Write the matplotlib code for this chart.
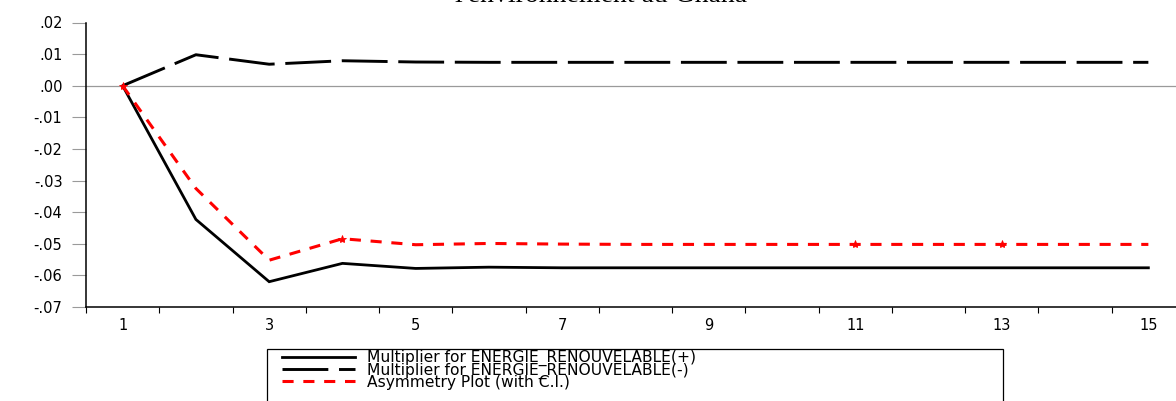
import matplotlib
matplotlib.use("Agg")
import matplotlib.pyplot as plt
from matplotlib.ticker import FixedLocator, FixedFormatter
from matplotlib.patches import Rectangle

plt.rcParams['lines.scale_dashes'] = False
plt.rcParams['font.family'] = ['DejaVu Sans']

# ---- data ----
periods = list(range(1, 16))
mult_pos = [0.0, -0.0423, -0.0620, -0.0562, -0.0578, -0.0574, -0.0576, -0.0576,
            -0.0576, -0.0576, -0.0576, -0.0576, -0.0576, -0.0576, -0.0576]
mult_neg = [0.0, 0.0098, 0.0068, 0.0079, 0.0075, 0.0074, 0.0074, 0.0074,
            0.0074, 0.0074, 0.0074, 0.0074, 0.0074, 0.0074, 0.0074]
asymmetry = [0.0, -0.0325, -0.0552, -0.0484, -0.0503, -0.0499, -0.0501, -0.0502,
             -0.0502, -0.0502, -0.0502, -0.0502, -0.0502, -0.0502, -0.0502]
marker_idx = [0, 3, 10, 12]

labels = ["Multiplier for ENERGIE_RENOUVELABLE(+)",
          "Multiplier for ENERGIE_RENOUVELABLE(-)",
          "Asymmetry Plot (with C.I.)"]
title_text = "l'environnement au Ghana"

ytick_vals = [0.02, 0.01, 0.00, -0.01, -0.02, -0.03, -0.04, -0.05, -0.06, -0.07]
ytick_labels = [".02", ".01", ".00", "-.01", "-.02", "-.03", "-.04", "-.05", "-.06", "-.07"]
xtick_vals = [1, 3, 5, 7, 9, 11, 13, 15]
xtick_labels = ["1", "3", "5", "7", "9", "11", "13", "15"]
xminor_vals = [0.5 + i for i in range(16)]

# ---- figure ----
W, H = 1176, 401
fig = plt.figure(figsize=(W / 100, H / 100), dpi=100)
left, right, top, bottom = 86, 1185, 22.5, 307
ax = fig.add_axes([left / W, 1 - bottom / H, (right - left) / W, (bottom - top) / H])

ax.axhline(0, color='#9a9a9a', lw=0.9, zorder=1)

l1, = ax.plot(periods, mult_pos, color='black', lw=2.0, solid_joinstyle='miter',
              label=labels[0], zorder=3)
l2, = ax.plot(periods, mult_neg, color='black', lw=2.1, label=labels[1], zorder=3)
l2.set_dashes((33, 7.7))
l3, = ax.plot(periods, asymmetry, color='#ff0000', lw=2.2, label=labels[2], zorder=4,
              marker='*', markevery=marker_idx, markersize=6, markeredgewidth=0.6,
              markerfacecolor='#ff0000', markeredgecolor='#ff0000')
l3.set_dashes((8, 7))

ax.set_xlim(0.5, 15.5)
ax.set_ylim(-0.07, 0.02)

ax.yaxis.set_major_locator(FixedLocator(ytick_vals))
ax.yaxis.set_major_formatter(FixedFormatter(ytick_labels))
ax.xaxis.set_major_locator(FixedLocator(xtick_vals))
ax.xaxis.set_major_formatter(FixedFormatter(xtick_labels))
ax.xaxis.set_minor_locator(FixedLocator(xminor_vals))

ax.tick_params(axis='y', which='major', direction='out', length=10, width=0.8,
               color='#9a9a9a', pad=7, labelsize=10.5, labelcolor='black')
ax.tick_params(axis='x', which='major', length=0, pad=8, labelsize=10.5)
ax.tick_params(axis='x', which='minor', direction='out', length=4.3, width=0.8,
               color='black')

for s in ['top', 'right']:
    ax.spines[s].set_visible(False)
for s in ['left', 'bottom']:
    ax.spines[s].set_linewidth(1.1)
    ax.spines[s].set_color('black')

fig.text(0.511, 1 - 2.0 / H, title_text, family='Liberation Serif', fontsize=20,
         ha='center', va='baseline')

# legend box (frame) and entries
bx0, bx1, by0 = 267, 1003, 349
fig.patches.append(Rectangle((bx0 / W, -0.05), (bx1 - bx0) / W, (1 - by0 / H) + 0.05,
                             transform=fig.transFigure, facecolor='white',
                             edgecolor='black', linewidth=0.9, zorder=5))
leg = fig.legend(handles=[l1, l2, l3], labels=labels, loc='upper left',
                 bbox_to_anchor=(282 / W, 1 - 350 / H),
                 borderaxespad=0, fontsize=11.2, handlelength=4.7,
                 handletextpad=0.75, labelspacing=-0.24, borderpad=0.0,
                 frameon=False)
leg.set_zorder(6)
for h in leg.legend_handles:
    h.set_marker('')

fig.savefig('out.png', dpi=100)
